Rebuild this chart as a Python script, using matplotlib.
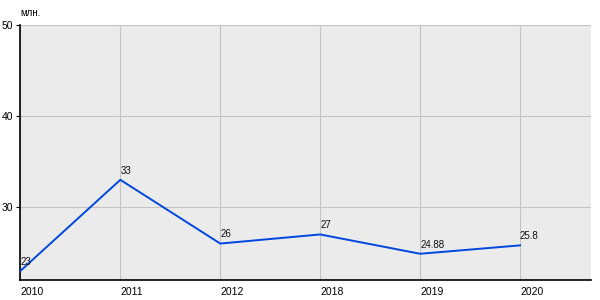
import matplotlib
matplotlib.use('Agg')
import matplotlib.pyplot as plt

years = ['2010', '2011', '2012', '2018', '2019', '2020']
values = [23, 33, 26, 27, 24.88, 25.8]
labels = ['23', '33', '26', '27', '24.88', '25.8']

plt.rcParams['font.family'] = ['Liberation Sans', 'DejaVu Sans']

fig = plt.figure(figsize=(6, 3), dpi=100)
ax = fig.add_axes([0.034, 0.0667, 0.951, 0.85])
ax.set_facecolor('#ebebeb')

x = list(range(len(years)))
ax.plot(x, values, color='#0047e0', lw=1.4, zorder=3)
for xi, v, t in zip(x, values, labels):
    ax.annotate(t, (xi, v), xytext=(0, 3), textcoords='offset points',
                fontsize=7, ha='left', va='bottom', color='#111111')

ax.set_xlim(0, 5.71)
ax.set_ylim(22, 50)
ax.set_xticks(x)
ax.set_xticklabels(years, ha='left')
ax.set_yticks([30, 40, 50])
ax.grid(color='#c4c4c4', lw=0.8)
ax.set_axisbelow(True)
for s in ['top', 'right']:
    ax.spines[s].set_visible(False)
ax.spines['left'].set_linewidth(1.2)
ax.spines['bottom'].set_linewidth(1.2)
ax.tick_params(axis='x', length=0, labelsize=7.5, pad=5)
ax.tick_params(axis='y', length=3, labelsize=7.5, pad=2)
fig.text(0.034, 0.955, 'млн.', fontsize=7, ha='left', va='center')

plt.savefig('out.png', dpi=100)
